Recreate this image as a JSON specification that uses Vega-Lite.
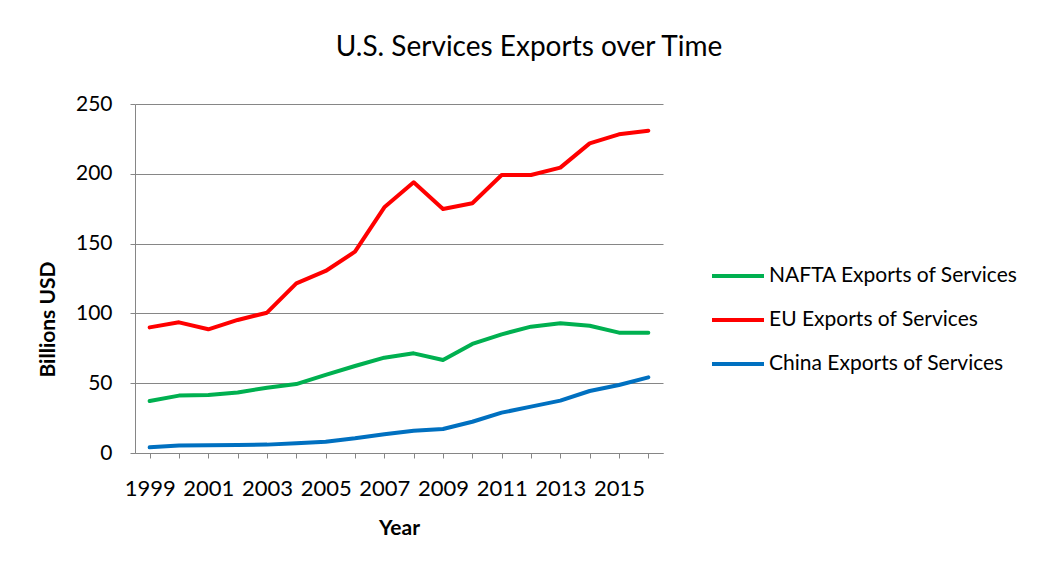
{
  "$schema": "https://vega.github.io/schema/vega-lite/v6.json",
  "autosize": {"type": "none"},
  "padding": {"left": 135, "top": 104, "right": 378, "bottom": 114},
  "width": 528,
  "height": 349,
  "background": "white",
  "title": {
    "text": "U.S. Services Exports over Time",
    "font": "Lato",
    "fontSize": 28,
    "fontWeight": "normal",
    "color": "#000000",
    "anchor": "middle",
    "frame": "group",
    "dx": 130,
    "offset": 31
  },
  "data": {
    "values": [
      {"year": 1999, "series": "NAFTA Exports of Services", "value": 37.2},
      {"year": 2000, "series": "NAFTA Exports of Services", "value": 41.1},
      {"year": 2001, "series": "NAFTA Exports of Services", "value": 41.5},
      {"year": 2002, "series": "NAFTA Exports of Services", "value": 43.4},
      {"year": 2003, "series": "NAFTA Exports of Services", "value": 46.8},
      {"year": 2004, "series": "NAFTA Exports of Services", "value": 49.4},
      {"year": 2005, "series": "NAFTA Exports of Services", "value": 55.9},
      {"year": 2006, "series": "NAFTA Exports of Services", "value": 62.3},
      {"year": 2007, "series": "NAFTA Exports of Services", "value": 68.3},
      {"year": 2008, "series": "NAFTA Exports of Services", "value": 71.4},
      {"year": 2009, "series": "NAFTA Exports of Services", "value": 66.6},
      {"year": 2010, "series": "NAFTA Exports of Services", "value": 78.1},
      {"year": 2011, "series": "NAFTA Exports of Services", "value": 85.0},
      {"year": 2012, "series": "NAFTA Exports of Services", "value": 90.5},
      {"year": 2013, "series": "NAFTA Exports of Services", "value": 92.9},
      {"year": 2014, "series": "NAFTA Exports of Services", "value": 91.2},
      {"year": 2015, "series": "NAFTA Exports of Services", "value": 86.2},
      {"year": 2016, "series": "NAFTA Exports of Services", "value": 86.2},
      {"year": 1999, "series": "EU Exports of Services", "value": 90.0},
      {"year": 2000, "series": "EU Exports of Services", "value": 93.6},
      {"year": 2001, "series": "EU Exports of Services", "value": 88.6},
      {"year": 2002, "series": "EU Exports of Services", "value": 95.3},
      {"year": 2003, "series": "EU Exports of Services", "value": 100.5},
      {"year": 2004, "series": "EU Exports of Services", "value": 121.5},
      {"year": 2005, "series": "EU Exports of Services", "value": 130.4},
      {"year": 2006, "series": "EU Exports of Services", "value": 144.2},
      {"year": 2007, "series": "EU Exports of Services", "value": 176.0},
      {"year": 2008, "series": "EU Exports of Services", "value": 193.9},
      {"year": 2009, "series": "EU Exports of Services", "value": 174.8},
      {"year": 2010, "series": "EU Exports of Services", "value": 178.9},
      {"year": 2011, "series": "EU Exports of Services", "value": 199.1},
      {"year": 2012, "series": "EU Exports of Services", "value": 199.1},
      {"year": 2013, "series": "EU Exports of Services", "value": 204.4},
      {"year": 2014, "series": "EU Exports of Services", "value": 221.8},
      {"year": 2015, "series": "EU Exports of Services", "value": 228.3},
      {"year": 2016, "series": "EU Exports of Services", "value": 230.9},
      {"year": 1999, "series": "China Exports of Services", "value": 4.1},
      {"year": 2000, "series": "China Exports of Services", "value": 5.3},
      {"year": 2001, "series": "China Exports of Services", "value": 5.5},
      {"year": 2002, "series": "China Exports of Services", "value": 5.7},
      {"year": 2003, "series": "China Exports of Services", "value": 6.0},
      {"year": 2004, "series": "China Exports of Services", "value": 6.9},
      {"year": 2005, "series": "China Exports of Services", "value": 8.1},
      {"year": 2006, "series": "China Exports of Services", "value": 10.5},
      {"year": 2007, "series": "China Exports of Services", "value": 13.4},
      {"year": 2008, "series": "China Exports of Services", "value": 16.0},
      {"year": 2009, "series": "China Exports of Services", "value": 17.2},
      {"year": 2010, "series": "China Exports of Services", "value": 22.4},
      {"year": 2011, "series": "China Exports of Services", "value": 28.9},
      {"year": 2012, "series": "China Exports of Services", "value": 33.2},
      {"year": 2013, "series": "China Exports of Services", "value": 37.5},
      {"year": 2014, "series": "China Exports of Services", "value": 44.4},
      {"year": 2015, "series": "China Exports of Services", "value": 48.7},
      {"year": 2016, "series": "China Exports of Services", "value": 54.2}
    ]
  },
  "mark": {"type": "line", "strokeWidth": 4, "strokeJoin": "round", "strokeCap": "round"},
  "encoding": {
    "x": {
      "field": "year",
      "type": "ordinal",
      "scale": {"paddingInner": 0, "paddingOuter": 0},
      "axis": {
        "title": "Year",
        "titleFont": "Lato",
        "titleFontSize": 21,
        "titleFontWeight": "bold",
        "titleColor": "#000000",
        "titlePadding": 18,
        "labelAngle": 0,
        "labelFont": "Lato",
        "labelFontSize": 22,
        "labelColor": "#000000",
        "labelPadding": 20,
        "labelOverlap": false,
        "labelExpr": "(+datum.value) % 2 == 1 ? datum.label : ''",
        "bandPosition": 0,
        "tickSize": 5,
        "tickColor": "#868686",
        "domainColor": "#868686",
        "grid": false
      }
    },
    "y": {
      "field": "value",
      "type": "quantitative",
      "scale": {"domain": [0, 250], "nice": false},
      "axis": {
        "title": "Billions USD",
        "titleFont": "Lato",
        "titleFontSize": 21,
        "titleFontWeight": "bold",
        "titleColor": "#000000",
        "titleAngle": -90,
        "titleX": -77,
        "titleY": 215,
        "titleBaseline": "bottom",
        "values": [0, 50, 100, 150, 200, 250],
        "labelFont": "Lato",
        "labelFontSize": 21,
        "labelColor": "#000000",
        "labelPadding": 18,
        "tickSize": 5,
        "tickColor": "#868686",
        "domainColor": "#868686",
        "grid": true,
        "gridColor": "#868686",
        "gridWidth": 1
      }
    },
    "color": {
      "field": "series",
      "type": "nominal",
      "sort": ["NAFTA Exports of Services", "EU Exports of Services", "China Exports of Services"],
      "scale": {
        "domain": ["NAFTA Exports of Services", "EU Exports of Services", "China Exports of Services"],
        "range": ["#00B050", "#FF0000", "#0070C0"]
      },
      "legend": {
        "title": null,
        "orient": "none",
        "legendX": 575,
        "legendY": 144,
        "symbolType": "stroke",
        "symbolSize": 2704,
        "symbolStrokeWidth": 4,
        "labelFont": "Lato",
        "labelFontSize": 21,
        "labelColor": "#000000",
        "labelOffset": 3,
        "labelLimit": 0,
        "rowPadding": 6
      }
    }
  },
  "config": {
    "view": {"stroke": null}
  }
}
